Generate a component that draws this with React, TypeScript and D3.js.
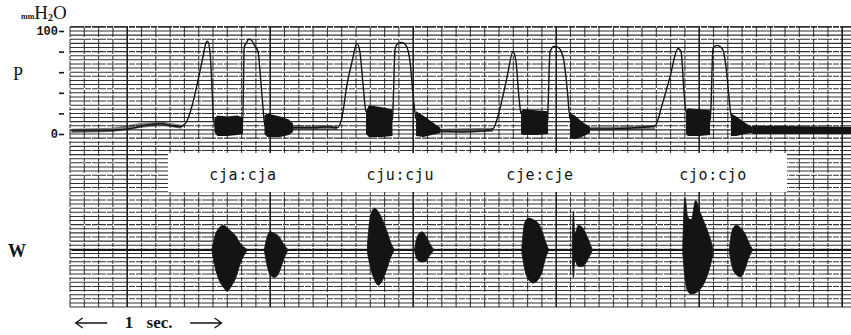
import * as d3 from 'd3';
import React, { useEffect, useRef } from 'react';

// P trace (mmH2O) : [time s, value]
const pTrace: [number, number][] = [
  [0.01, 3], [0.2, 3], [0.35, 4], [0.45, 6], [0.55, 9], [0.64, 10], [0.71, 8], [0.77, 7],
  [0.815, 12], [0.855, 28], [0.895, 52], [0.93, 75], [0.95, 88], [0.962, 90], [0.98, 78],
  [0.993, 45], [1.003, 15], [1.013, 8], [1.1, 8], [1.205, 10],
  [1.208, 10], [1.218, 84], [1.232, 88], [1.25, 92], [1.27, 91], [1.29, 86], [1.315, 80],
  [1.335, 50], [1.35, 25], [1.363, 8], [1.46, 8], [1.56, 6], [1.7, 6], [1.8, 7], [1.867, 6],
  [1.9, 15], [1.937, 48], [1.972, 70], [2.007, 88], [2.027, 80], [2.048, 50], [2.07, 22],
  [2.17, 12], [2.255, 14], [2.26, 30], [2.273, 82], [2.293, 88], [2.32, 89], [2.35, 86],
  [2.378, 70], [2.398, 40], [2.42, 15], [2.5, 6], [2.59, 3], [2.75, 2], [2.9, 3], [2.958, 5],
  [3.007, 25], [3.056, 55], [3.098, 80], [3.119, 70], [3.14, 35], [3.154, 20],
  [3.25, 10], [3.34, 12], [3.343, 25], [3.357, 80], [3.385, 85], [3.413, 84], [3.448, 75],
  [3.476, 45], [3.497, 15], [3.57, 8], [3.636, 5], [3.8, 5], [3.95, 6], [4.091, 8],
  [4.14, 28], [4.195, 55], [4.252, 83], [4.273, 80], [4.294, 40], [4.308, 22],
  [4.4, 10], [4.475, 12], [4.482, 25], [4.496, 83], [4.524, 86], [4.56, 83], [4.588, 65],
  [4.609, 35], [4.623, 18], [4.7, 8], [4.77, 4], [5.0, 4], [5.5, 3]
];

// dense vibration blocks on P : [time, low, high]
const pBlocks: [number, number, number][][] = [
  [[1.01, 2, 15], [1.03, -2, 18], [1.1, -2, 17], [1.17, -1, 18], [1.21, 0, 16]],
  [[1.36, 0, 18], [1.38, -3, 20], [1.47, -3, 17], [1.53, -1, 14], [1.56, 2, 10]],
  [[2.07, 0, 22], [2.09, -3, 28], [2.18, -3, 26], [2.255, -2, 24]],
  [[2.42, -2, 22], [2.47, -3, 18], [2.53, -1, 12], [2.59, 1, 6]],
  [[3.154, 0, 22], [3.17, -1, 24], [3.26, -1, 23], [3.343, 0, 22]],
  [[3.497, -4, 20], [3.53, -5, 18], [3.58, -3, 12], [3.636, 1, 7]],
  [[4.308, 0, 22], [4.32, -2, 25], [4.4, -2, 24], [4.476, -1, 23]],
  [[4.622, -2, 20], [4.66, -2, 17], [4.72, 0, 11], [4.77, 1, 7]],
  [[4.77, 0, 8], [5.5, 0, 7]]
];

// thin baseline hum on P : [time, low, high]
const pHum: [number, number, number][][] = [
  [[0.01, 1, 5], [0.3, 2, 6], [0.5, 6, 11], [0.65, 8, 12], [0.78, 5, 9]],
  [[1.56, 4, 8], [1.867, 4, 8]],
  [[2.59, 1, 5], [2.958, 2, 6]],
  [[3.636, 3, 7], [4.091, 4, 8]]
];

// W bursts : [time, upper, lower]
const wBursts: [number, number, number][][] = [
  [[0.993, 0.02, -0.02], [1.013, 0.25, -0.3], [1.043, 0.4, -0.55], [1.073, 0.45, -0.68], [1.1, 0.4, -0.75], [1.13, 0.33, -0.65], [1.16, 0.25, -0.5], [1.19, 0.12, -0.25], [1.235, 0.02, -0.02]],
  [[1.36, 0.02, -0.02], [1.38, 0.25, -0.3], [1.4, 0.33, -0.45], [1.43, 0.3, -0.5], [1.46, 0.25, -0.42], [1.49, 0.12, -0.2], [1.52, 0.02, -0.02]],
  [[2.08, 0.1, -0.05], [2.1, 0.6, -0.3], [2.13, 0.76, -0.55], [2.155, 0.7, -0.64], [2.185, 0.55, -0.55], [2.215, 0.35, -0.35], [2.245, 0.12, -0.12], [2.265, 0.02, -0.02]],
  [[2.41, 0.02, -0.02], [2.43, 0.25, -0.18], [2.46, 0.33, -0.22], [2.49, 0.25, -0.2], [2.515, 0.12, -0.1], [2.54, 0.02, -0.02]],
  [[3.16, 0.05, -0.05], [3.18, 0.5, -0.35], [3.21, 0.58, -0.55], [3.24, 0.55, -0.6], [3.27, 0.5, -0.55], [3.3, 0.35, -0.4], [3.325, 0.15, -0.15], [3.345, 0.02, -0.02]],
  [[3.512, 0.02, -0.02], [3.52, 0.7, -0.5], [3.53, 0.3, -0.2], [3.555, 0.45, -0.3], [3.585, 0.4, -0.3], [3.615, 0.25, -0.2], [3.65, 0.02, -0.02]],
  [[4.285, 0.05, -0.05], [4.3, 0.95, -0.5], [4.32, 0.6, -0.75], [4.345, 0.55, -0.8], [4.375, 0.9, -0.78], [4.405, 0.7, -0.72], [4.435, 0.5, -0.6], [4.465, 0.3, -0.4], [4.495, 0.05, -0.1]],
  [[4.612, 0.05, -0.05], [4.63, 0.35, -0.3], [4.66, 0.45, -0.45], [4.69, 0.4, -0.49], [4.72, 0.3, -0.35], [4.745, 0.15, -0.15], [4.77, 0.02, -0.02]]
];

const syllables = ['cja:cja', 'cju:cju', 'cje:cje', 'cjo:cjo'];
const syllableTimes = [1.21, 2.31, 3.287, 4.497];
const pTicks = [0, 20, 40, 60, 80, 100];
const pTickLabels = ['0', '', '', '', '', '100'];

const W = 851;
const H = 335;

const App = () => {
  const ref = useRef<SVGSVGElement>(null);

  useEffect(() => {
    const svg = d3.select(ref.current);
    svg.selectAll('*').remove();

    const x = d3.scaleLinear().domain([0, 5.5]).range([70, 856.5]);
    const yP = d3.scaleLinear().domain([0, 100]).range([134, 31]);
    const yW = d3.scaleLinear().domain([-1, 1]).range([305, 195]);
    const ink = '#141414';

    // chart paper: horizontal rows every 4 mmH2O
    const rows = d3.range(104, -169, -4);
    svg.append('g')
      .selectAll('line')
      .data(rows)
      .enter().append('line')
      .attr('x1', 70).attr('x2', W)
      .attr('y1', d => yP(d)).attr('y2', d => yP(d))
      .attr('stroke', '#1c1c1c')
      .attr('stroke-width', (d, i) => (i === 0 ? 1.8 : 1.05))
      .attr('stroke-dasharray', (d, i) => (i % 3 === 0 ? '14,1,6,1' : null))
      .attr('opacity', 0.9);

    // vertical time lines, 0.1 s
    const cols = d3.range(0, 56);
    svg.append('g')
      .selectAll('line')
      .data(cols)
      .enter().append('line')
      .attr('x1', d => x(d / 10)).attr('x2', d => x(d / 10))
      .attr('y1', yP(104)).attr('y2', yP(-168))
      .attr('stroke', ink)
      .attr('stroke-width', d => (d % 10 === 4 ? 1.6 : 1.1))
      .attr('stroke-dasharray', d => (d % 10 === 4 ? null : '10,2,4,1'))
      .attr('opacity', d => (d % 10 === 4 ? 0.95 : 0.8));

    // white label strip
    svg.append('rect')
      .attr('x', 168).attr('y', 153)
      .attr('width', 619).attr('height', 39)
      .attr('fill', 'white');

    svg.append('g')
      .selectAll('text')
      .data(syllables)
      .enter().append('text')
      .attr('x', (d, i) => x(syllableTimes[i]))
      .attr('y', 180)
      .attr('text-anchor', 'middle')
      .attr('font-family', 'DejaVu Sans Mono, monospace')
      .attr('font-size', 15)
      .attr('letter-spacing', 0.6)
      .attr('fill', ink)
      .text(d => d);

    const band = d3.area<[number, number, number]>()
      .x(d => x(d[0]))
      .y0(d => yP(d[1]))
      .y1(d => yP(d[2]));

    // P baseline hum
    svg.append('g')
      .selectAll('path')
      .data(pHum)
      .enter().append('path')
      .attr('d', d => band(d))
      .attr('fill', ink)
      .attr('opacity', 0.55);

    // P vibration blocks
    svg.append('g')
      .selectAll('path')
      .data(pBlocks)
      .enter().append('path')
      .attr('d', d => band(d))
      .attr('fill', ink);

    // P trace
    svg.append('path')
      .datum(pTrace)
      .attr('fill', 'none')
      .attr('stroke', ink)
      .attr('stroke-width', 1.4)
      .attr('d', d3.line<[number, number]>()
        .curve(d3.curveMonotoneX)
        .x(d => x(d[0]))
        .y(d => yP(d[1])));

    // W baseline and bursts
    svg.append('line')
      .attr('x1', x(0.01)).attr('x2', W)
      .attr('y1', yW(0)).attr('y2', yW(0))
      .attr('stroke', ink)
      .attr('stroke-width', 2.2);

    const burstArea = d3.area<[number, number, number]>()
      .curve(d3.curveMonotoneX)
      .x(d => x(d[0]))
      .y0(d => yW(d[2]))
      .y1(d => yW(d[1]));
    svg.append('g')
      .selectAll('path')
      .data(wBursts)
      .enter().append('path')
      .attr('d', d => burstArea(d))
      .attr('fill', ink)
      .attr('stroke', ink)
      .attr('stroke-width', 0.8);

    // P axis
    const axis = svg.append('g')
      .attr('transform', 'translate(64,0)')
      .call(d3.axisLeft(yP).tickValues(pTicks).tickSize(5).tickPadding(1)
        .tickFormat((d, i) => pTickLabels[i]));
    axis.select('.domain').remove();
    axis.selectAll('line').attr('stroke', ink).attr('stroke-width', 1.6);
    axis.selectAll('text')
      .attr('font-family', 'Liberation Mono, monospace')
      .attr('font-weight', 'bold')
      .attr('font-size', 12)
      .attr('fill', ink);

    // unit
    const unit = svg.append('text')
      .attr('x', 21).attr('y', 19)
      .attr('font-family', 'Liberation Serif, serif')
      .attr('font-weight', 'bold')
      .attr('fill', ink);
    unit.append('tspan').attr('font-size', 8).text('mm');
    unit.append('tspan').attr('font-size', 19).attr('font-weight', 'normal').text('H');
    unit.append('tspan').attr('font-size', 10).attr('dy', 2).text('2');
    unit.append('tspan').attr('font-size', 19).attr('font-weight', 'normal').attr('dy', -2).text('O');

    svg.append('text')
      .attr('x', 13).attr('y', 80)
      .attr('font-family', 'Liberation Serif, serif')
      .attr('font-size', 18)
      .attr('fill', ink)
      .text('P');

    svg.append('text')
      .attr('x', 8).attr('y', 257)
      .attr('font-family', 'Liberation Serif, serif')
      .attr('font-weight', 'bold')
      .attr('font-size', 18)
      .attr('fill', ink)
      .text('W');

    // 1 sec. scale note
    const yS = 323;
    const arrows = svg.append('g')
      .attr('stroke', ink).attr('stroke-width', 1.3).attr('fill', 'none');
    arrows.append('path').attr('d', `M${x(0.04)},${yS}H${x(0.26)}M${x(0.04) + 7},${yS - 5}L${x(0.04)},${yS}L${x(0.04) + 7},${yS + 5}`);
    arrows.append('path').attr('d', `M${x(0.84)},${yS}H${x(1.06)}M${x(1.06) - 7},${yS - 5}L${x(1.06)},${yS}L${x(1.06) - 7},${yS + 5}`);
    svg.append('text')
      .attr('x', x(0.55)).attr('y', yS + 5)
      .attr('text-anchor', 'middle')
      .attr('font-family', 'Liberation Serif, serif')
      .attr('font-weight', 'bold')
      .attr('font-size', 17)
      .attr('word-spacing', 9)
      .attr('fill', ink)
      .text('1 sec.');
  }, []);

  return (
    <svg ref={ref} width={W} height={H}
      style={{ position: 'absolute', left: 0, top: 0, background: 'white' }} />
  );
};

export default App;
